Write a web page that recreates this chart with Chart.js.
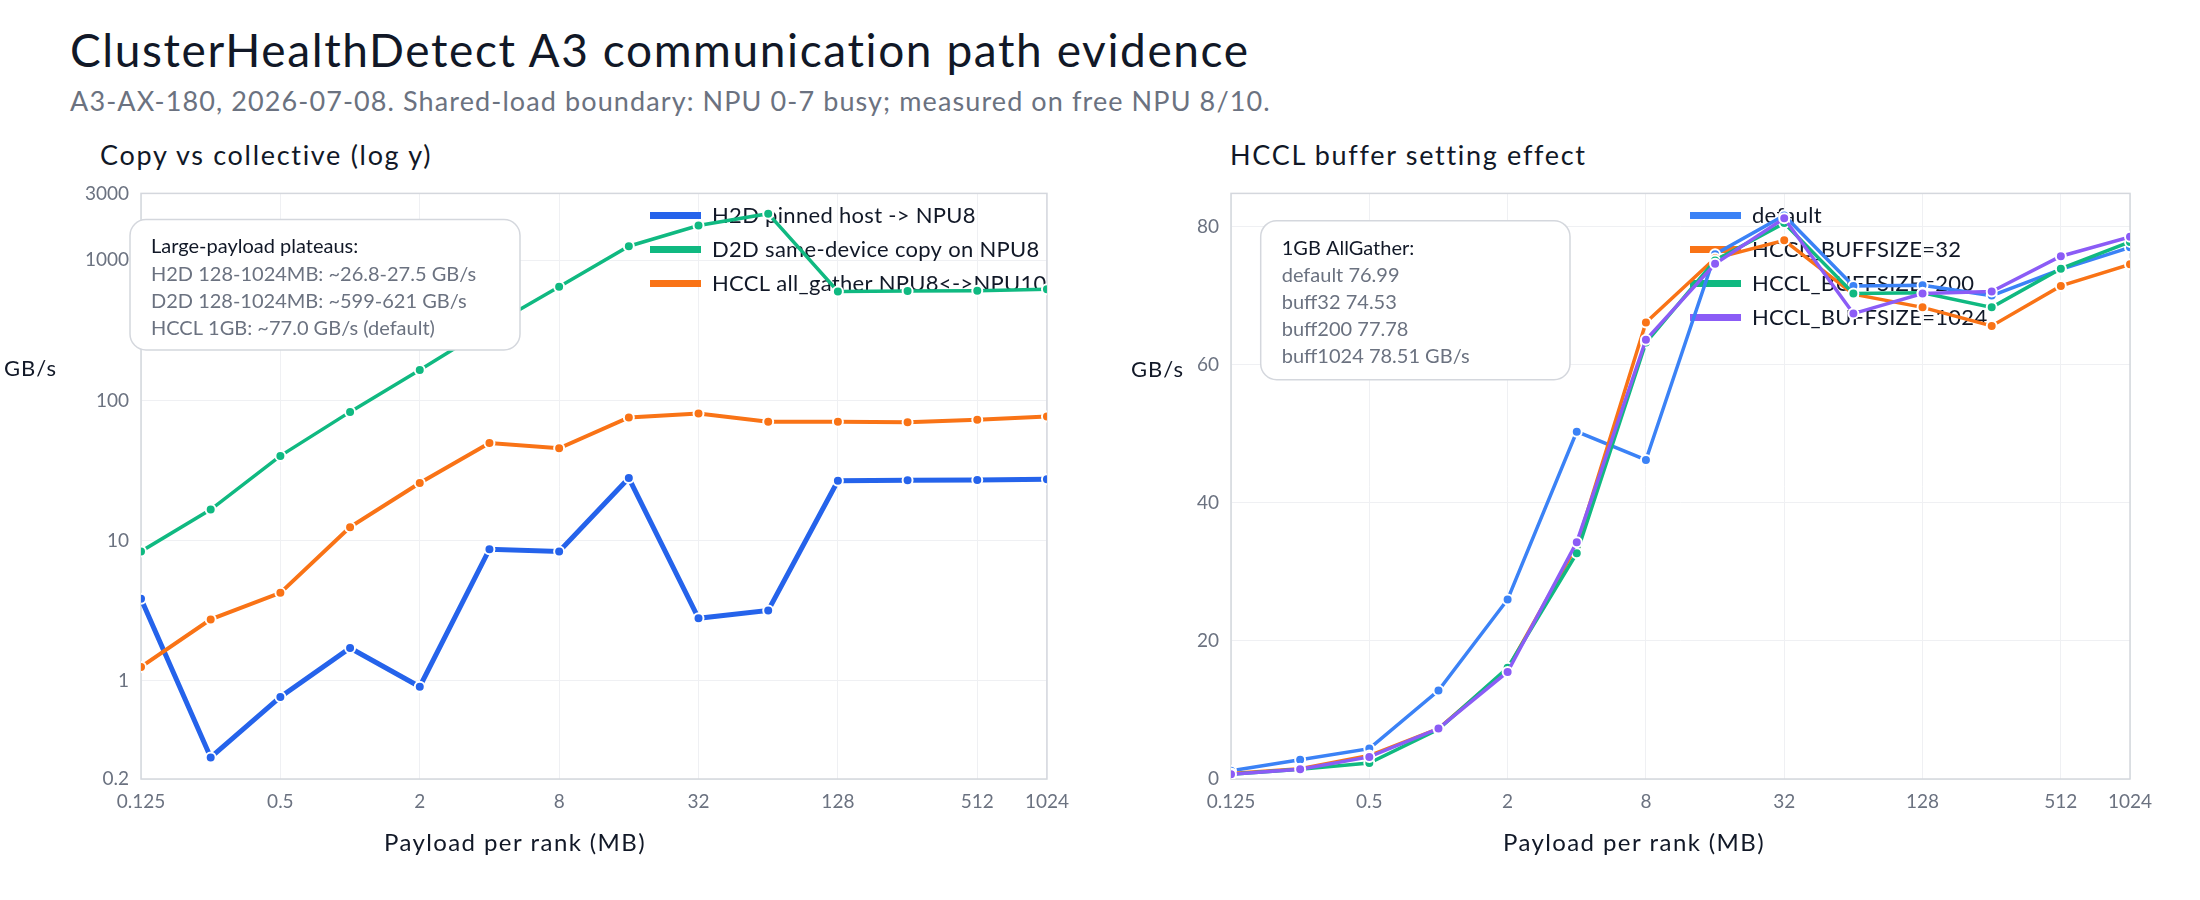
<!DOCTYPE html>
<html>
<head>
<meta charset="utf-8">
<title>ClusterHealthDetect A3 communication path evidence</title>
<script src="https://cdn.jsdelivr.net/npm/chart.js@4.4.1/dist/chart.umd.min.js"></script>
<style>
  body { margin: 0; width: 2200px; height: 900px; background: #fff; font-family: Lato, sans-serif; position: relative; overflow: hidden; }
  .txt { position: absolute; line-height: 1; white-space: nowrap; }
  #title { left: 70px; top: 27px; font-size: 46px; letter-spacing: 1.6px; color: #111827; }
  #subtitle { left: 70px; top: 87px; font-size: 27px; letter-spacing: 1.1px; color: #6b7280; }
  .panel { top: 141px; font-size: 27px; letter-spacing: 1.7px; color: #111827; }
  .box { position: absolute; top: 170px; height: 730px; }
</style>
</head>
<body>
<div id="title" class="txt">ClusterHealthDetect A3 communication path evidence</div>
<div id="subtitle" class="txt">A3-AX-180, 2026-07-08. Shared-load boundary: NPU 0-7 busy; measured on free NPU 8/10.</div>
<div class="txt panel" style="left:100px">Copy vs collective (log y)</div>
<div class="txt panel" style="left:1230px">HCCL buffer setting effect</div>
<div class="box" style="left:0;width:1080px"><canvas id="copyChart"></canvas></div>
<div class="box" style="left:1100px;width:1100px"><canvas id="bufferChart"></canvas></div>

<script>
// payload per rank (MB) and axis ticks
const payloadMB = [0.125, 0.25, 0.5, 1, 2, 4, 8, 16, 32, 64, 128, 256, 512, 1024];
const xTicks = [0.125, 0.5, 2, 8, 32, 128, 512, 1024];
const copyYTicks = [0.2, 1, 10, 100, 1000, 3000];
const bufferYTicks = [0, 20, 40, 60, 80];

// left panel, GB/s
const h2dPinned = [3.86, 0.285, 0.77, 1.72, 0.91, 8.7, 8.4, 28.0, 2.8, 3.18, 26.8, 27.0, 27.1, 27.5];
const d2dSameDevice = [8.4, 16.7, 40.3, 83, 165, 335, 648, 1260, 1770, 2150, 599, 603, 606, 621];
const hcclAllGather = [1.26, 2.75, 4.25, 12.5, 25.8, 49.8, 45.7, 75.7, 80.9, 70.6, 70.6, 70.1, 73.0, 77.0];

// right panel, GB/s
const bufDefault = [1.2, 2.8, 4.4, 12.8, 26.0, 50.3, 46.2, 76.0, 81.6, 71.4, 71.5, 70.0, 73.8, 76.99];
const buf32 = [0.8, 1.5, 3.4, 7.3, 15.9, 33.8, 66.1, 75.4, 78.0, 70.2, 68.3, 65.6, 71.4, 74.53];
const buf200 = [0.7, 1.4, 2.3, 7.2, 16.1, 32.7, 63.2, 75.1, 80.5, 70.3, 70.4, 68.3, 73.9, 77.78];
const buf1024 = [0.7, 1.4, 3.2, 7.3, 15.5, 34.3, 63.6, 74.6, 81.2, 67.4, 70.3, 70.6, 75.7, 78.51];

const copyNote = ['Large-payload plateaus:', 'H2D 128-1024MB: ~26.8-27.5 GB/s', 'D2D 128-1024MB: ~599-621 GB/s', 'HCCL 1GB: ~77.0 GB/s (default)'];
const bufferNote = ['1GB AllGather:', 'default 76.99', 'buff32 74.53', 'buff200 77.78', 'buff1024 78.51 GB/s'];

const FONT = 'Lato, sans-serif';
const INK = '#111827';
const MUTED = '#6b7280';

function series(label, values, color, width, order) {
    return {
        label: label,
        data: payloadMB.map((x, i) => ({ x: x, y: values[i] })),
        borderColor: color,
        backgroundColor: color,
        borderWidth: width,
        pointRadius: 5,
        pointHoverRadius: 5,
        pointBackgroundColor: color,
        pointBorderColor: '#ffffff',
        pointBorderWidth: 2,
        tension: 0,
        order: order
    };
}

// frame, legend under the lines, note box over them, axis titles
const panelDecor = {
    id: 'panelDecor',
    beforeDatasetsDraw(chart, args, opts) {
        const ctx = chart.ctx;
        const a = chart.chartArea;
        ctx.save();
        ctx.strokeStyle = '#d4d7dd';
        ctx.lineWidth = 1.5;
        ctx.strokeRect(a.left, a.top, a.right - a.left, a.bottom - a.top);
        ctx.font = '22px ' + FONT;
        ctx.letterSpacing = '0.3px';
        ctx.textBaseline = 'middle';
        ctx.textAlign = 'left';
        chart.data.datasets.forEach((ds, i) => {
            const y = opts.legendY + i * 34;
            ctx.fillStyle = ds.borderColor;
            ctx.fillRect(opts.legendX, y - 3.5, 51, 7);
            ctx.fillStyle = INK;
            ctx.fillText(ds.label, opts.legendX + 62, y);
        });
        ctx.restore();
    },
    afterDatasetsDraw(chart, args, opts) {
        const ctx = chart.ctx;
        const b = opts.box;
        ctx.save();
        ctx.beginPath();
        ctx.roundRect(b.x, b.y, b.w, b.h, 16);
        ctx.fillStyle = '#ffffff';
        ctx.fill();
        ctx.strokeStyle = '#d4d7dd';
        ctx.lineWidth = 1.5;
        ctx.stroke();
        ctx.font = '20px ' + FONT;
        ctx.textBaseline = 'middle';
        ctx.textAlign = 'left';
        opts.lines.forEach((t, i) => {
            ctx.fillStyle = i === 0 ? INK : MUTED;
            ctx.fillText(t, b.x + 21, b.y + 27.5 + i * 27.2);
        });
        ctx.restore();
    },
    afterDraw(chart, args, opts) {
        const ctx = chart.ctx;
        ctx.save();
        ctx.fillStyle = INK;
        ctx.textBaseline = 'middle';
        ctx.font = '22px ' + FONT;
        ctx.letterSpacing = '1px';
        ctx.textAlign = 'left';
        ctx.fillText('GB/s', opts.yTitleX, opts.yTitleY);
        ctx.font = '24px ' + FONT;
        ctx.letterSpacing = '1.4px';
        ctx.textAlign = 'center';
        ctx.fillText('Payload per rank (MB)', opts.xTitleX, opts.xTitleY);
        ctx.restore();
    }
};

function xScale() {
    return {
        type: 'logarithmic',
        min: 0.125,
        max: 1024,
        afterBuildTicks: s => { s.ticks = xTicks.map(v => ({ value: v })); },
        afterFit: s => { s.height = 121; },
        grid: { color: '#eff0f3', drawTicks: false },
        border: { display: false },
        ticks: {
            autoSkip: false,
            maxRotation: 0,
            padding: 11,
            color: MUTED,
            font: { family: FONT, size: 19 },
            callback: v => String(v)
        }
    };
}

function yTicks() {
    return {
        autoSkip: false,
        padding: 12,
        color: MUTED,
        font: { family: FONT, size: 19 },
        callback: v => String(v)
    };
}

Chart.defaults.font.family = FONT;
Chart.defaults.animation = false;

new Chart(document.getElementById('copyChart').getContext('2d'), {
    type: 'line',
    data: {
        datasets: [
            series('H2D pinned host -> NPU8', h2dPinned, '#2563eb', 5, 3),
            series('D2D same-device copy on NPU8', d2dSameDevice, '#10b981', 3.5, 2),
            series('HCCL all_gather NPU8<->NPU10', hcclAllGather, '#f97316', 4, 1)
        ]
    },
    options: {
        responsive: true,
        maintainAspectRatio: false,
        layout: { padding: { top: 21, right: 30, bottom: 0, left: 0 } },
        scales: {
            x: xScale(),
            y: {
                type: 'logarithmic',
                min: 0.2,
                max: 3000,
                afterBuildTicks: s => { s.ticks = copyYTicks.map(v => ({ value: v })); },
                afterFit: s => { s.width = 141; },
                grid: { color: '#eff0f3', drawTicks: false },
                border: { display: false },
                ticks: yTicks()
            }
        },
        plugins: {
            legend: { display: false },
            tooltip: { enabled: false },
            panelDecor: {
                legendX: 650, legendY: 45.5,
                box: { x: 130, y: 49.5, w: 390, h: 130.5 },
                lines: copyNote,
                yTitleX: 4, yTitleY: 199,
                xTitleX: 515, xTitleY: 673
            }
        }
    },
    plugins: [panelDecor]
});

new Chart(document.getElementById('bufferChart').getContext('2d'), {
    type: 'line',
    data: {
        datasets: [
            series('default', bufDefault, '#3b82f6', 3.5, 4),
            series('HCCL_BUFFSIZE=32', buf32, '#f97316', 3.5, 3),
            series('HCCL_BUFFSIZE=200', buf200, '#10b981', 3.5, 2),
            series('HCCL_BUFFSIZE=1024', buf1024, '#8b5cf6', 3.5, 1)
        ]
    },
    options: {
        responsive: true,
        maintainAspectRatio: false,
        layout: { padding: { top: 21, right: 70, bottom: 0, left: 0 } },
        scales: {
            x: xScale(),
            y: {
                type: 'linear',
                min: 0,
                max: 84.8,
                afterBuildTicks: s => { s.ticks = bufferYTicks.map(v => ({ value: v })); },
                afterFit: s => { s.width = 131; },
                grid: { color: '#eff0f3', drawTicks: false },
                border: { display: false },
                ticks: yTicks()
            }
        },
        plugins: {
            legend: { display: false },
            tooltip: { enabled: false },
            panelDecor: {
                legendX: 590, legendY: 45.5,
                box: { x: 160.7, y: 50.7, w: 309.3, h: 159 },
                lines: bufferNote,
                yTitleX: 31, yTitleY: 200,
                xTitleX: 534, xTitleY: 673
            }
        }
    },
    plugins: [panelDecor]
});
</script>
</body>
</html>
